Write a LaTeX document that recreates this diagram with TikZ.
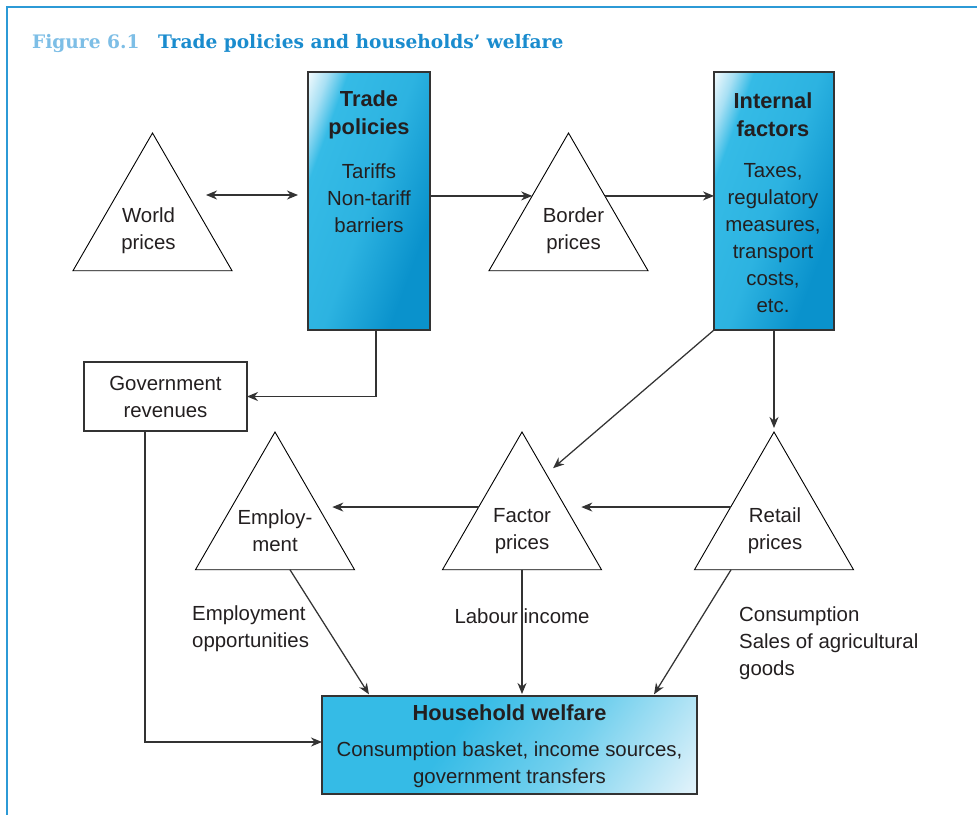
\documentclass[tikz,border=0pt]{standalone}
\usepackage{fontspec}
\setmainfont{Liberation Sans}
\newfontfamily\titlefont{DejaVu Serif}
\usetikzlibrary{shapes.geometric,arrows.meta,calc}
\definecolor{frameblue}{HTML}{2C9AD6}
\definecolor{figlight}{HTML}{7DBEE6}
\definecolor{figdark}{HTML}{1A8CCE}
\definecolor{txt}{HTML}{231F20}
\definecolor{ln}{HTML}{333333}
\definecolor{cya}{HTML}{35BBE6}
\definecolor{blu}{HTML}{0A92CC}
\definecolor{lcy}{HTML}{A8E0F4}
\definecolor{pale}{HTML}{E6F4FB}
\pgfdeclarehorizontalshading{tallshade}{100bp}{color(0bp)=(white); color(17bp)=(white); color(24bp)=(lcy); color(30bp)=(cya); color(50bp)=(cya!80!blu); color(70bp)=(blu); color(100bp)=(blu)}
\pgfdeclarehorizontalshading{wideshade}{100bp}{color(0bp)=(cya); color(40bp)=(cya); color(60bp)=(cya!70!white); color(85bp)=(pale); color(100bp)=(pale)}
\begin{document}
\begin{tikzpicture}[x=1pt,y=-1pt,
  tri/.style={regular polygon, regular polygon sides=3, minimum size=183.6pt, draw=black, line width=0.9pt, inner sep=0pt, outer sep=0pt},
  box/.style={draw=ln, line width=1.2pt, inner sep=0pt, outer sep=0pt},
  lbl/.style={font=\fontsize{20.4}{27}\selectfont, text=txt, align=center, inner sep=0pt},
  hdr/.style={font=\fontsize{21.8}{28}\selectfont\bfseries, text=txt, align=center, inner sep=0pt},
  arr/.style={draw=ln, line width=1.25pt, -{Stealth[length=11pt,width=9pt,inset=3.5pt]}},
  dblarr/.style={draw=ln, line width=1.25pt, {Stealth[length=11pt,width=9pt,inset=3.5pt]}-{Stealth[length=11pt,width=9pt,inset=3.5pt]}}]
\useasboundingbox (0,0) rectangle (977,814);
\fill[white] (0,0) rectangle (977,814);
\draw[frameblue, line width=2.2pt] (7,815) -- (7,7) -- (978,7);
% title
\node[anchor=base west, text=figlight, inner sep=0pt] (fignum) at (32,48) {\titlefont\bfseries\fontsize{18.6}{22}\selectfont Figure 6.1};
\node[anchor=base west, text=figdark, inner sep=0pt] (figtitle) at (158,48) {\titlefont\bfseries\fontsize{18.6}{22}\selectfont Trade policies and households’ welfare};
% triangles
\node[tri] (world) at (152.5,224.8) {};
\node[lbl] (worldt) at ([xshift=-4pt,yshift=-5.5pt]world.center) {World\\prices};
\node[tri] (border) at (568.5,224.8) {};
\node[lbl] (bordert) at ([xshift=5pt,yshift=-5.5pt]border.center) {Border\\prices};
\node[tri] (employ) at (275,523.8) {};
\node[lbl] (employt) at ([yshift=-7pt]employ.center) {Employ-\\ment};
\node[tri] (factor) at (522,523.8) {};
\node[lbl] (factort) at ([yshift=-7pt]factor.center) {Factor\\prices};
\node[tri] (retail) at (774,523.8) {};
\node[lbl] (retailt) at ([xshift=1pt,yshift=-7pt]retail.center) {Retail\\prices};
% boxes
\node[box, minimum width=122pt, minimum height=258pt, shade, shading=tallshade, shading angle=-20] (trade) at (369,201) {};
\node[hdr] (tradeh) at (369,115) {Trade\\policies};
\node[lbl] (tradeb) at (369,198) {Tariffs\\Non-tariff\\barriers};
\node[box, minimum width=120pt, minimum height=258pt, shade, shading=tallshade, shading angle=-20] (internal) at (774,201) {};
\node[hdr] (internalh) at (773,115) {Internal\\factors};
\node[lbl] (internalb) at (773,238) {Taxes,\\regulatory\\measures,\\transport\\costs,\\etc.};
\node[box, minimum width=163pt, minimum height=69pt, fill=white] (gov) at (165.5,396.5) {};
\node[lbl] (govt) at (gov.center) {Government\\revenues};
\node[box, minimum width=375pt, minimum height=98pt, shade, shading=wideshade, shading angle=-35] (household) at (509.5,745) {};
\node[hdr] (householdh) at (509.5,713) {Household welfare};
\node[lbl] (householdb) at (509.5,765) {Consumption basket, income sources,\\government transfers};
% edge labels
\node[lbl, align=left, anchor=west] (empl) at (192,629) {Employment\\opportunities};
\node[lbl] (labl) at (522,616) {Labour income};
\node[lbl, align=left, anchor=west] (consl) at (739,643) {Consumption\\Sales of agricultural\\goods};
% connectors
\coordinate (wend) at (206,195);
\draw[dblarr, shorten >=10pt] (wend) -- ([yshift=6pt]trade.west);
\coordinate (bin) at ($(border.corner 1)!0.457!(border.corner 2)$);
\draw[arr] (trade.east |- bin) -- (bin);
\coordinate (bout) at ($(border.corner 1)!0.457!(border.corner 3)$);
\draw[arr] (bout) -- (internal.west |- bout);
\draw[arr] ([xshift=7pt]trade.south) |- (gov.east);
\draw[arr] ([xshift=-20.5pt]gov.south) |- ([yshift=3pt]household.west);
\coordinate (fin) at ($(factor.corner 1)!0.305!(factor.corner 3)$);
\draw[arr, shorten >=9pt] (internal.south west) -- (fin);
\draw[arr, shorten >=4pt] (internal.south) -- (retail.corner 1);
\coordinate (rl) at ($(retail.corner 1)!0.545!(retail.corner 2)$);
\coordinate (fr) at ($(factor.corner 1)!0.545!(factor.corner 3)$);
\draw[arr, shorten >=16pt] (rl) -- (fr);
\coordinate (fl) at ($(factor.corner 1)!0.545!(factor.corner 2)$);
\coordinate (er) at ($(employ.corner 1)!0.545!(employ.corner 3)$);
\draw[arr, shorten >=14pt] (fl) -- (er);
\draw[arr, shorten >=2pt] ($(employ.corner 2)!0.594!(employ.corner 3)$) -- ([xshift=48pt]household.north west);
\draw[arr, shorten >=2pt] (factor.south) -- (factor.south |- household.north);
\draw[arr, shorten >=2pt] ($(retail.corner 2)!0.23!(retail.corner 3)$) -- ([xshift=-44pt]household.north east);
\end{tikzpicture}
\end{document}
